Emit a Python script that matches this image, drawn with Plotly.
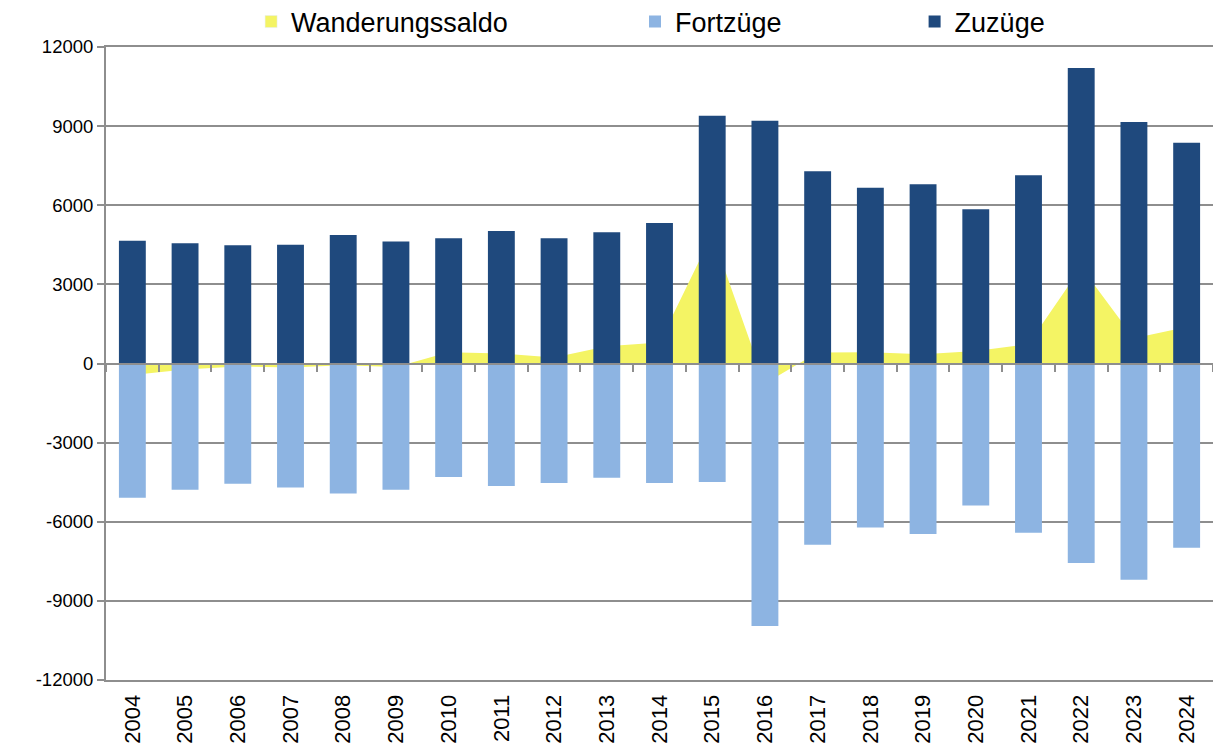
import plotly.graph_objects as go

years = [str(y) for y in range(2004, 2025)]
zuzuege = [4650, 4560, 4480, 4500, 4870, 4630, 4750, 5020, 4750, 4980, 5330,
           9390, 9200, 7290, 6660, 6800, 5850, 7140, 11200, 9160, 8370]
fortzuege = [-5090, -4790, -4560, -4700, -4930, -4790, -4300, -4640, -4530, -4330, -4530,
             -4490, -9950, -6870, -6220, -6460, -5380, -6420, -7560, -8200, -6990]
saldo = [-440, -230, -110, -150, -70, -130, 430, 380, 230, 650, 800,
         4900, -760, 420, 430, 350, 470, 740, 3650, 960, 1380]
y_ticks = [-12000, -9000, -6000, -3000, 0, 3000, 6000, 9000, 12000]

FONT = "Liberation Sans, Arial, sans-serif"
GRID = "#8e8e8e"
C_DARK = "#1F497D"
C_LIGHT = "#8DB4E2"
C_YEL = "#F4F464"

fig = go.Figure()

# area (drawn on base subplot so it sits behind the bars)
fig.add_trace(go.Scatter(
    x=years, y=saldo, name="Wanderungssaldo", mode="lines",
    line=dict(width=0, color=C_YEL), fill="tozeroy", fillcolor=C_YEL,
    xaxis="x", yaxis="y", showlegend=False, hoverinfo="x+y"))
# legend proxy with square symbol for the area series
fig.add_trace(go.Bar(
    x=[years[0]], y=[None], name="Wanderungssaldo", marker=dict(color=C_YEL),
    xaxis="x2", yaxis="y2", legend="legend", hoverinfo="skip"))

fig.add_trace(go.Bar(
    x=years, y=fortzuege, name="Fortzüge", marker=dict(color=C_LIGHT, line=dict(width=0)),
    width=0.51, xaxis="x2", yaxis="y2", legend="legend2"))
fig.add_trace(go.Bar(
    x=years, y=zuzuege, name="Zuzüge", marker=dict(color=C_DARK, line=dict(width=0)),
    width=0.51, xaxis="x2", yaxis="y2", legend="legend3"))

legend_common = dict(orientation="h", xref="container", yref="container",
                     yanchor="middle", y=0.9706, xanchor="left",
                     font=dict(family=FONT, size=27, color="black"),
                     bgcolor="rgba(0,0,0,0)", itemwidth=30)

fig.update_layout(
    width=1213, height=749,
    margin=dict(l=106, r=0, t=47, b=69, autoexpand=False),
    paper_bgcolor="white", plot_bgcolor="white",
    barmode="overlay",
    showlegend=True,
    legend=dict(legend_common, x=0.2070),
    legend2=dict(legend_common, x=0.5235),
    legend3=dict(legend_common, x=0.7540),
    xaxis=dict(type="category", categoryorder="array", categoryarray=years,
               range=[-0.5, 20.5], showgrid=False, zeroline=False,
               showline=True, mirror=True, linecolor=GRID, linewidth=2,
               ticks="", tickangle=-90, ticklabelstandoff=4,
               tickfont=dict(family=FONT, size=22, color="black")),
    yaxis=dict(range=[-12000, 12000], tickvals=y_ticks, ticktext=[str(v) for v in y_ticks],
               showgrid=True, gridcolor=GRID, gridwidth=2, zeroline=False,
               showline=True, linecolor=GRID, linewidth=2,
               ticks="outside", ticklen=7, tickwidth=2, tickcolor=GRID,
               tickfont=dict(family=FONT, size=18.5, color="black")),
    xaxis2=dict(type="category", categoryorder="array", categoryarray=years,
                range=[-0.5, 20.5], overlaying="x", anchor="free", position=0.5,
                showgrid=False, zeroline=False, showline=True, linecolor=GRID, linewidth=2,
                tickson="boundaries", ticks="outside", ticklen=7, tickwidth=2, tickcolor=GRID,
                showticklabels=False),
    yaxis2=dict(range=[-12000, 12000], overlaying="y", anchor="x", side="left",
                showgrid=False, zeroline=False, showline=False, showticklabels=False, ticks=""),
)

fig.write_html("out.html", config={"displayModeBar": False},
               post_script="document.body.style.margin='0px';document.body.style.overflow='hidden';")
